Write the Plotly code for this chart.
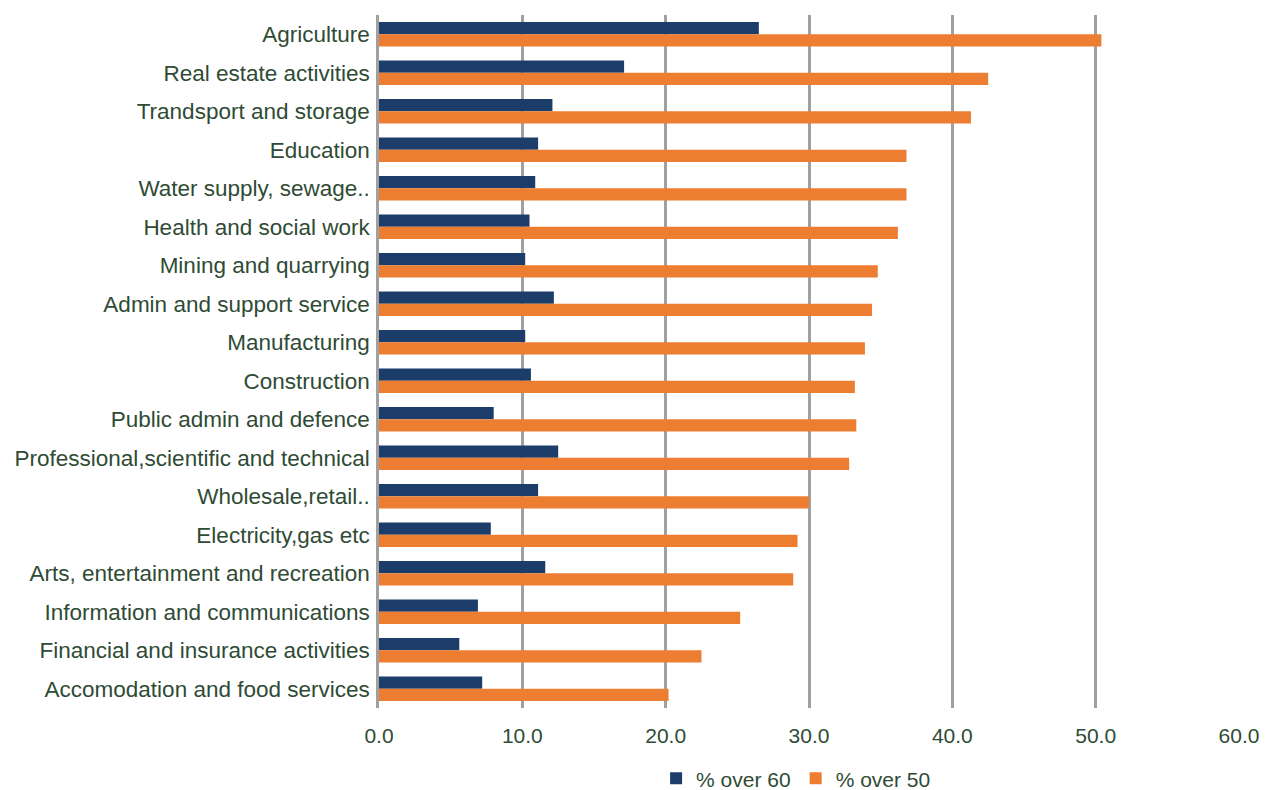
import plotly.graph_objects as go

categories = [
    "Agriculture", "Real estate activities", "Trandsport and storage", "Education",
    "Water supply, sewage..", "Health and social work", "Mining and quarrying",
    "Admin and support service", "Manufacturing", "Construction",
    "Public admin and defence", "Professional,scientific and technical",
    "Wholesale,retail..", "Electricity,gas etc", "Arts, entertainment and recreation",
    "Information and communications", "Financial and insurance activities",
    "Accomodation and food services",
]
over60 = [26.5, 17.1, 12.1, 11.1, 10.9, 10.5, 10.2, 12.2, 10.2, 10.6, 8.0, 12.5,
          11.1, 7.8, 11.6, 6.9, 5.6, 7.2]
over50 = [50.4, 42.5, 41.3, 36.8, 36.8, 36.2, 34.8, 34.4, 33.9, 33.2, 33.3, 32.8,
          30.0, 29.2, 28.9, 25.2, 22.5, 20.2]
x_ticks = [0, 10, 20, 30, 40, 50, 60]

text_color = "#2f4b35"
font_family = "Liberation Sans, Arial, sans-serif"

fig = go.Figure()
fig.add_trace(go.Bar(y=categories, x=over60, orientation="h", name="% over 60",
                     marker_color="#1c3c69", marker_line_width=0))
fig.add_trace(go.Bar(y=categories, x=over50, orientation="h", name="% over 50",
                     marker_color="#ed7d31", marker_line_width=0))

fig.update_layout(
    width=1259, height=782,
    margin=dict(l=371, r=28, t=7, b=82, autoexpand=False),
    barmode="group", bargap=0.36, bargroupgap=0,
    plot_bgcolor="white", paper_bgcolor="white",
    font=dict(family=font_family, color=text_color, size=22),
    showlegend=True,
    legend=dict(orientation="h", x=0.485, xanchor="center", y=-0.102, yanchor="middle",
                font=dict(size=21, color=text_color), traceorder="normal",
                itemwidth=30),
    xaxis=dict(range=[0, 60], tickvals=x_ticks, tickformat=".1f",
               showgrid=True, gridcolor="#a0a0a0", gridwidth=2.5,
               zeroline=False, showline=False, automargin=False,
               ticks="outside", ticklen=9, tickcolor="rgba(0,0,0,0)",
               tickfont=dict(size=21, color=text_color)),
    yaxis=dict(categoryorder="array", categoryarray=categories, autorange="reversed",
               showgrid=False, zeroline=False, automargin=False,
               showline=True, linecolor="#a0a0a0", linewidth=2.5,
               ticks="outside", ticklen=2, tickcolor="rgba(0,0,0,0)",
               tickfont=dict(size=22.5, color=text_color)),
)

fig.write_html("out.html")
